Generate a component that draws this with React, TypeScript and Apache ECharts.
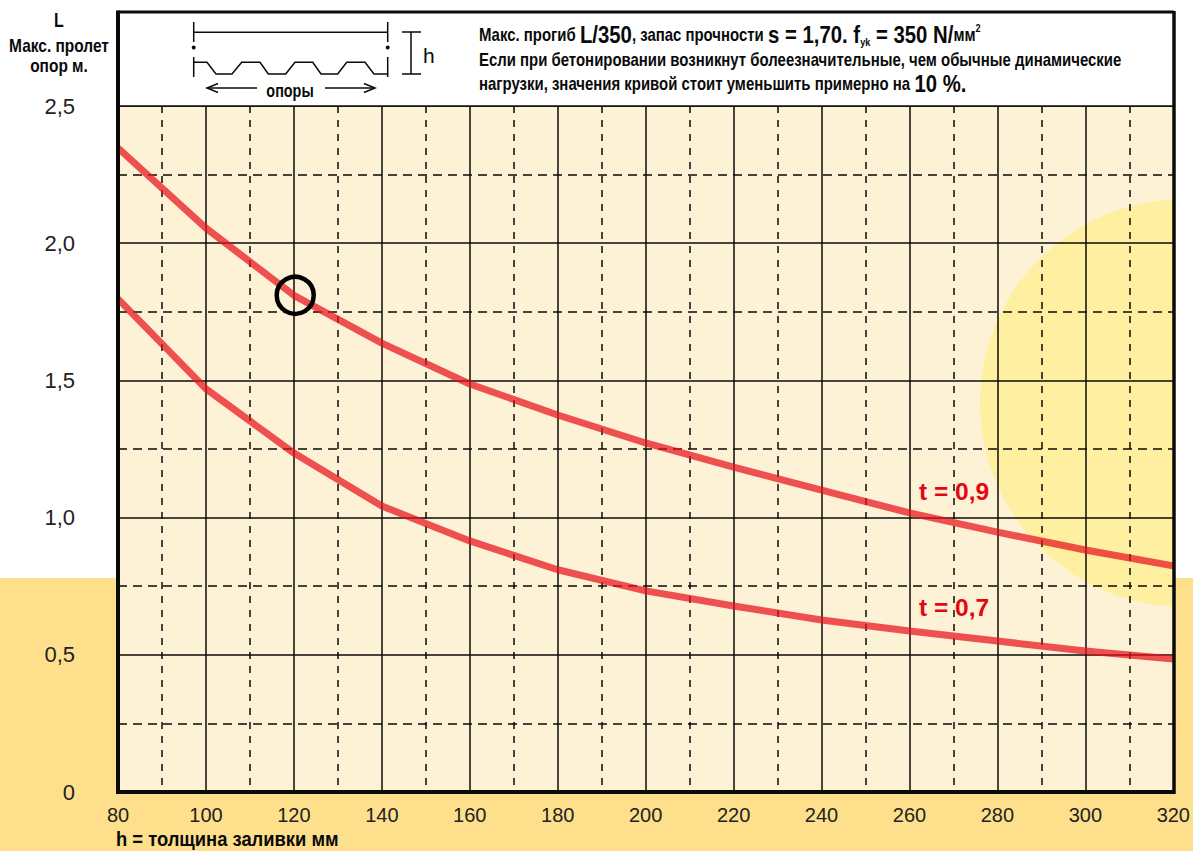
import React, { useEffect, useRef } from "react";
import * as echarts from "echarts";

const thickness = [80, 100, 120, 140, 160, 180, 200, 220, 240, 260, 280, 300, 320];
const spanT09 = [2.347, 2.055, 1.81, 1.636, 1.487, 1.374, 1.272, 1.184, 1.1, 1.017, 0.947, 0.882, 0.824];
const spanT07 = [1.797, 1.469, 1.235, 1.042, 0.915, 0.81, 0.733, 0.678, 0.627, 0.587, 0.55, 0.514, 0.485];
const exampleX = 120.3;
const exampleY = 1.81;

const SANS = '"Liberation Sans", Arial, sans-serif';
const BAND = "#FEE08C";
const PLOT = "#FEF2D6";
const SUN = "#FEF0A0";
const L = 118, R = 1174, T = 106, B = 792;
const SQ = 0.83;

const line = (x1: number, y1: number, x2: number, y2: number, w = 1.5) => ({
  type: "line", z: 5, shape: { x1, y1, x2, y2 }, style: { stroke: "#0a0a0a", lineWidth: w },
});
const poly = (pts: number[][], w = 1.5) => ({
  type: "polyline", z: 5, shape: { points: pts }, style: { stroke: "#0a0a0a", lineWidth: w, fill: "none" },
});
const txt = (x: number, y: number, text: string, font: string, extra: any = {}, scaleX = 1) => ({
  type: "text", z: 6, x, y, scaleX,
  style: { text, font, fill: "#0a0a0a", textAlign: "left", textVerticalAlign: "middle", ...extra },
});

export default function App() {
  const ref = useRef<HTMLDivElement>(null);
  useEffect(() => {
    const chart = echarts.init(ref.current!, undefined, { renderer: "svg" });
    const rich = {
      n: { font: `bold 18px ${SANS}`, fill: "#0a0a0a" },
      b: { font: `bold 24.5px ${SANS}`, fill: "#0a0a0a" },
      sub: { font: `bold 11px ${SANS}`, fill: "#0a0a0a", verticalAlign: "bottom", padding: [10, 0, 0, 0] },
      sup: { font: `bold 11px ${SANS}`, fill: "#0a0a0a", verticalAlign: "top", padding: [0, 0, 10, 0] },
    };
    chart.setOption({
      animation: false,
      backgroundColor: "#fff",
      grid: { left: L, right: 1193 - R, top: T, bottom: 851 - B, containLabel: false },
      xAxis: {
        type: "value", min: 80, max: 320, interval: 20,
        axisLine: { show: false }, axisTick: { show: false },
        axisLabel: { color: "#222", fontFamily: SANS, fontSize: 20, margin: 13, hideOverlap: false },
        splitLine: { show: true, lineStyle: { color: "#0a0a0a", width: 1.5 } },
        minorTick: { show: false, splitNumber: 2 },
        minorSplitLine: { show: true, lineStyle: { color: "#0a0a0a", width: 1.5, type: [7, 7] } },
      },
      yAxis: {
        type: "value", min: 0, max: 2.5, interval: 0.5,
        axisLine: { show: false }, axisTick: { show: false },
        axisLabel: {
          color: "#222", fontFamily: SANS, fontSize: 22, margin: 43,
          formatter: (v: number) => (v === 0 ? "0" : v.toFixed(1).replace(".", ",")),
        },
        splitLine: { show: true, lineStyle: { color: "#0a0a0a", width: 1.5 } },
        minorTick: { show: false, splitNumber: 2 },
        minorSplitLine: { show: true, lineStyle: { color: "#0a0a0a", width: 1.5, type: [9, 6] } },
      },
      series: [
        { name: "t = 0,9", type: "line", symbol: "none", data: thickness.map((x, i) => [x, spanT09[i]]), lineStyle: { color: "#E8101C", width: 7, opacity: 0.72, join: "round" } },
        { name: "t = 0,7", type: "line", symbol: "none", data: thickness.map((x, i) => [x, spanT07[i]]), lineStyle: { color: "#E8101C", width: 7, opacity: 0.72, join: "round" } },
        { name: "example", type: "scatter", symbol: "circle", symbolSize: 37, data: [[exampleX, exampleY]], itemStyle: { color: "rgba(0,0,0,0)", borderColor: "#000", borderWidth: 4.5, opacity: 1 }, z: 4 },
      ],
      graphic: [
        { type: "rect", z: -10, shape: { x: 0, y: 578, width: 1193, height: 273 }, style: { fill: BAND } },
        { type: "rect", z: -9, shape: { x: L, y: T, width: R - L, height: B - T }, style: { fill: PLOT } },
        { type: "circle", z: -8, shape: { cx: 1184, cy: 403, r: 204 }, style: { fill: SUN } },
        { type: "rect", z: -7, shape: { x: R, y: 190, width: 19, height: 388 }, style: { fill: "#fff" } },
        { type: "rect", z: -7, shape: { x: R, y: 578, width: 19, height: 40 }, style: { fill: BAND } },
        { type: "rect", z: 3, shape: { x: L, y: 12, width: R - L, height: T - 12 }, style: { fill: "#fff" } },
        line(L, T, R, T, 1.5),
        line(L, 12, R, 12, 3),
        line(R, 11, R, B + 2, 3.5),
        line(L, 10.5, L, B + 2, 4),
        line(L, B, R, B, 4),

        line(193.7, 22, 193.7, 42),
        line(387.7, 22, 387.7, 42),
        line(193.7, 57, 193.7, 77),
        line(387.7, 57, 387.7, 77),
        line(193.7, 32.3, 387.7, 32.3),
        { type: "circle", z: 5, shape: { cx: 193.7, cy: 47.5, r: 2 }, style: { fill: "#0a0a0a" } },
        { type: "circle", z: 5, shape: { cx: 387.7, cy: 47.5, r: 2 }, style: { fill: "#0a0a0a" } },
        poly([[194, 62.3], [207, 62.3], [216, 74], [232, 74], [241.7, 62.3], [260, 62.3], [268.3, 74], [285.7, 74], [295, 62.3], [312.7, 62.3], [321, 74], [337.7, 74], [346.7, 62.3], [365, 62.3], [374, 74], [387.7, 74]]),
        line(411, 32, 411, 74),
        line(402, 32, 421, 32),
        line(402, 74, 421, 74),
        txt(423, 55, "h", `21px ${SANS}`),
        line(207, 88, 257, 88),
        line(325, 88, 375, 88),
        poly([[218, 83.5], [207, 88], [218, 92.5]]),
        poly([[364, 83.5], [375, 88], [364, 92.5]]),
        txt(290, 90, "опоры", `bold 18px ${SANS}`, { textAlign: "center" }, 0.8),

        txt(59, 20, "L", `bold 20px ${SANS}`, { textAlign: "center" }, 0.8),
        txt(59, 46, "Макс. пролет", `bold 18px ${SANS}`, { textAlign: "center" }, 0.86),
        txt(59, 66, "опор м.", `bold 18px ${SANS}`, { textAlign: "center" }, 0.86),
        txt(116, 839, "h = толщина заливки мм", `bold 21px ${SANS}`, {}, 0.875),

        txt(479, 35, "{n|Макс. прогиб }{b|L/350}{n|, запас прочности }{b|s = 1,70. f}{sub|yk}{b| = 350 N/}{n|мм}{sup|2}", `bold 18px ${SANS}`, { rich }, SQ),
        txt(479, 60, "Если при бетонировании возникнут болеезначительные, чем обычные динамические", `bold 18px ${SANS}`, {}, SQ),
        txt(479, 84, "{n|нагрузки, значения кривой стоит уменьшить примерно на }{b|10 %.}", `bold 18px ${SANS}`, { rich }, SQ),

        txt(919, 491, "t = 0,9", `bold 24.5px ${SANS}`, { fill: "#E30613" }),
        txt(919, 607, "t = 0,7", `bold 24.5px ${SANS}`, { fill: "#E30613" }),
      ],
    });
    return () => chart.dispose();
  }, []);
  return <div ref={ref} style={{ position: "fixed", left: 0, top: 0, width: 1193, height: 851 }} />;
}
